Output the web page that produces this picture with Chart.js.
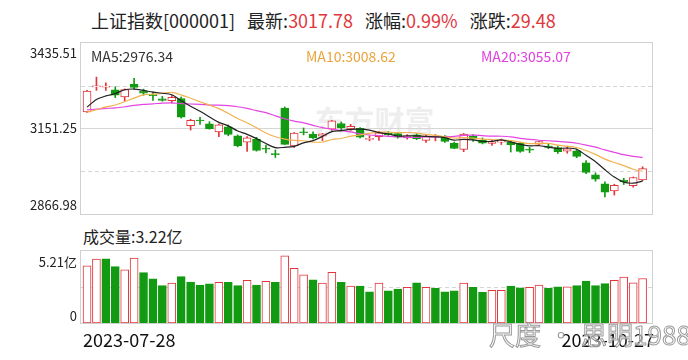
<!DOCTYPE html>
<html><head><meta charset="utf-8">
<script src="https://cdn.jsdelivr.net/npm/chart.js@4.4.0/dist/chart.umd.min.js"></script>
<style>
html,body{margin:0;padding:0;background:#fff;}
body{width:688px;height:360px;position:relative;overflow:hidden;font-family:"Noto Sans CJK SC","Noto Sans",sans-serif;color:#222;}
.abs{position:absolute;white-space:nowrap;}
.r{color:#e0363c;}
#title{left:91px;top:7px;font-size:18px;line-height:26px;}
#title .g{margin-left:12px;}
.ma{top:47px;font-size:14px;line-height:18px;}
#volTitle{left:83px;top:225px;font-size:16px;line-height:22px;}
.date{top:326px;font-size:18px;line-height:26px;color:#111;}
#wm2{left:489px;top:316px;font-size:26px;line-height:36px;color:rgba(255,255,255,0.55);-webkit-text-stroke:1px #9a9a9a;}
canvas{position:absolute;left:0;}
</style></head>
<body>
<div id="title" class="abs"></div>
<canvas id="pc" width="688" height="222" style="top:0"></canvas>
<div id="ma5" class="abs ma" style="left:91px;color:#333"></div>
<div id="ma10" class="abs ma" style="left:306px;color:#e9a43c"></div>
<div id="ma20" class="abs ma" style="left:481px;color:#e040dd"></div>
<div id="volTitle" class="abs"></div>
<canvas id="vc" width="688" height="134" style="top:226px"></canvas>
<div id="d0" class="abs date" style="left:83px"></div>
<div id="d1" class="abs date" style="right:34px"></div>
<div id="wm2" class="abs"><span>尺度</span><span style="margin:0 7px">·</span><span>思明1988</span></div>
<script>
// ---------- data ----------
const dates = ['2023-07-28','2023-07-31','2023-08-01','2023-08-02','2023-08-03','2023-08-04','2023-08-07','2023-08-08','2023-08-09','2023-08-10',
'2023-08-11','2023-08-14','2023-08-15','2023-08-16','2023-08-17','2023-08-18','2023-08-21','2023-08-22','2023-08-23','2023-08-24',
'2023-08-25','2023-08-28','2023-08-29','2023-08-30','2023-08-31','2023-09-01','2023-09-04','2023-09-05','2023-09-06','2023-09-07',
'2023-09-08','2023-09-11','2023-09-12','2023-09-13','2023-09-14','2023-09-15','2023-09-18','2023-09-19','2023-09-20','2023-09-21',
'2023-09-22','2023-09-25','2023-09-26','2023-09-27','2023-09-28','2023-10-09','2023-10-10','2023-10-11','2023-10-12','2023-10-13',
'2023-10-16','2023-10-17','2023-10-18','2023-10-19','2023-10-20','2023-10-23','2023-10-24','2023-10-25','2023-10-26','2023-10-27'];

const opens = [3206.5,3289.5,3289.0,3280.0,3256.0,3299.0,3276.0,3262.0,3250.0,3244.0,
3251.0,3161.0,3178.0,3167.0,3140.0,3157.0,3127.0,3106.0,3116.0,3085.0,
3068.0,3219.0,3093.0,3140.0,3133.0,3126.0,3149.0,3168.0,3150.0,3152.0,
3115.0,3124.0,3136.0,3134.0,3120.0,3130.0,3112.0,3123.0,3122.0,3103.0,
3082.0,3125.0,3113.0,3102.0,3106.0,3105.0,3102.0,3083.0,3099.0,3093.0,
3088.0,3076.0,3077.0,3037.0,2997.0,2967.0,2944.0,2980.0,2961.0,2980.0];

const highs = [3278.0,3322.13,3303.0,3290.0,3283.0,3318.0,3282.0,3272.0,3258.0,3261.0,
3256.0,3182.0,3188.0,3174.0,3166.0,3163.0,3130.0,3124.0,3122.0,3096.0,
3080.0,3223.0,3138.0,3153.0,3140.0,3135.0,3178.0,3173.0,3165.0,3154.0,
3127.0,3142.0,3141.0,3138.0,3131.0,3134.0,3131.0,3131.0,3128.0,3106.0,
3135.0,3131.0,3120.0,3114.0,3116.0,3111.0,3105.0,3089.0,3109.0,3100.0,
3093.0,3091.0,3083.0,3045.0,3004.0,2974.0,2966.0,2986.0,2990.0,3024.0];

const lows = [3204.6,3278.0,3278.0,3254.0,3243.0,3282.0,3262.0,3245.0,3242.0,3236.0,
3186.0,3146.0,3165.0,3149.0,3124.0,3127.0,3090.0,3075.0,3076.0,3070.0,
3055.0,3098.0,3088.0,3130.0,3117.0,3111.0,3145.0,3147.0,3145.0,3120.0,
3110.0,3112.0,3128.0,3119.0,3116.0,3114.0,3105.0,3110.0,3105.0,3084.0,
3074.0,3108.0,3100.0,3095.0,3098.0,3073.0,3072.0,3071.0,3094.0,3084.0,
3068.0,3069.0,3054.0,3001.0,2976.0,2923.51,2930.0,2965.0,2956.0,2978.0];

const closes = [3275.93,3291.04,3290.95,3261.69,3280.46,3288.08,3268.83,3260.62,3244.49,3254.56,
3189.25,3178.43,3176.18,3150.13,3163.74,3131.95,3092.98,3120.33,3078.40,3082.24,
3064.07,3098.64,3135.89,3137.14,3119.88,3133.25,3177.06,3154.37,3158.08,3122.35,
3116.72,3137.06,3131.14,3122.55,3126.55,3117.74,3125.93,3124.80,3108.57,3084.70,
3132.43,3115.61,3102.27,3107.32,3110.48,3096.92,3075.24,3078.96,3107.90,3088.10,
3073.81,3083.50,3058.71,3005.39,2983.06,2939.29,2962.24,2974.10,2988.30,3017.78];

// closes of the 19 sessions before the first candle (for the moving averages)
const priorCloses = [3243.98,3245.35,3222.95,3205.57,3196.61,3203.70,3221.37,3196.13,3236.48,3237.70,
3209.63,3197.82,3198.84,3169.52,3167.75,3164.16,3231.52,3223.13,3216.67];

// volume, 亿
const volumes = [4.13,4.62,4.64,4.08,3.84,4.69,3.64,3.19,2.70,2.88,
3.36,2.97,2.75,2.83,2.95,2.95,2.70,3.09,2.75,3.02,
2.95,4.86,3.96,3.48,3.12,2.88,3.67,2.95,2.68,2.68,
2.25,2.88,2.32,2.46,2.59,2.90,2.59,2.51,2.25,2.32,
2.88,2.59,2.22,2.37,2.37,2.68,2.54,2.59,2.75,2.51,
2.61,2.61,2.70,3.04,2.70,2.85,3.09,3.33,2.90,3.22];

const priceTicks = [3435.51, 3151.25, 2866.98];
const volTicks = [5.21, 0];
const volTickLabels = ['5.21亿', '0'];
const maPeriods = [5, 10, 20];

// ---------- derived ----------
const RED = '#e0363c', GREEN = '#129a12';
const allCloses = priorCloses.concat(closes);
const off = priorCloses.length;
function ma(n){
  return closes.map((c,i)=>{
    let s=0; for(let k=off+i-n+1;k<=off+i;k++) s+=allCloses[k];
    return s/n;
  });
}
const maSeries = maPeriods.map(ma);
const prevClose = i => allCloses[off+i-1];
const candleUp = closes.map((c,i)=>c>=opens[i]);
const volUp = closes.map((c,i)=>c>=prevClose(i));

// text
const last = closes.length-1;
const chg = closes[last]-closes[last-1];
document.getElementById('title').innerHTML =
  '上证指数[000001]<span class="g">最新:</span><span class="r">'+closes[last].toFixed(2)+
  '</span><span class="g">涨幅:</span><span class="r">'+(chg/closes[last-1]*100).toFixed(2)+
  '%</span><span class="g">涨跌:</span><span class="r">'+chg.toFixed(2)+'</span>';
['ma5','ma10','ma20'].forEach((id,k)=>{
  document.getElementById(id).textContent='MA'+maPeriods[k]+':'+maSeries[k][last].toFixed(2);
});
document.getElementById('volTitle').textContent='成交量:'+volumes[last].toFixed(2)+'亿';
document.getElementById('d0').textContent=dates[0];
document.getElementById('d1').textContent=dates[last];

// ---------- plugin: frame, grid, labels ----------
const panelPlugin = {
  id:'panel',
  beforeDatasetsDraw(chart, args, o){
    const {ctx, chartArea:a, scales:{y}} = chart;
    ctx.save();
    if(o.watermark){
      ctx.font='bold 30px "Noto Sans CJK SC"';
      ctx.fillStyle='rgba(120,120,120,0.13)';
      ctx.textAlign='center'; ctx.textBaseline='middle';
      ctx.fillText(o.watermark, (a.left+a.right)/2+8, (a.top+a.bottom)/2-8);
    }
    ctx.lineWidth=1;
    (o.solid||[]).forEach(v=>{
      const py=Math.round(y.getPixelForValue(v))+0.5;
      ctx.strokeStyle='#d6d6d6'; ctx.setLineDash([]);
      ctx.beginPath(); ctx.moveTo(a.left,py); ctx.lineTo(a.right,py); ctx.stroke();
    });
    (o.dashed||[]).forEach(v=>{
      const py=Math.round(y.getPixelForValue(v))+0.5;
      ctx.strokeStyle='#d6d6d6'; ctx.setLineDash([4,3]);
      ctx.beginPath(); ctx.moveTo(a.left,py); ctx.lineTo(a.right,py); ctx.stroke();
    });
    ctx.restore();
  },
  afterDraw(chart, args, o){
    const {ctx, chartArea:a, scales:{y}} = chart;
    ctx.save();
    ctx.strokeStyle='#d0d0d0'; ctx.lineWidth=1; ctx.setLineDash([]);
    ctx.strokeRect(Math.round(a.left)-0.5, Math.round(a.top)-0.5, Math.round(a.right-a.left)+1, Math.round(a.bottom-a.top)+1);
    ctx.font='13px "Noto Sans CJK SC"';
    ctx.fillStyle='#222'; ctx.textAlign='right'; ctx.textBaseline='middle';
    (o.labels||[]).forEach(l=>{
      ctx.fillText(l.text, a.left-4, y.getPixelForValue(l.value)+l.dy);
    });
    ctx.restore();
  }
};

const xScale = {type:'linear', min:-0.64, max:60, offset:false, grid:{offset:false}, display:false};
const idx = closes.map((c,i)=>i);

// ---------- price chart ----------
new Chart(document.getElementById('pc'), {
  type:'bar',
  data:{datasets:[
    {label:'wick', order:4, grouped:false, barThickness:1,
     data: idx.map(i=>({x:i, y:[lows[i], highs[i]]})),
     backgroundColor: idx.map(i=>candleUp[i]?RED:GREEN), borderWidth:0},
    {label:'body', order:3, grouped:false, barThickness:8, minBarLength:1,
     data: idx.map(i=>({x:i, y:[opens[i], closes[i]]})),
     backgroundColor: idx.map(i=>candleUp[i]?'#ffffff':GREEN),
     borderColor: idx.map(i=>candleUp[i]?RED:GREEN),
     borderWidth:1, borderSkipped:false},
    {type:'line', label:'MA20', order:2, data: idx.map(i=>({x:i,y:maSeries[2][i]})),
     borderColor:'#e545e2', borderWidth:1.2, pointRadius:0, tension:0.3},
    {type:'line', label:'MA10', order:1, data: idx.map(i=>({x:i,y:maSeries[1][i]})),
     borderColor:'#f2b24e', borderWidth:1.2, pointRadius:0, tension:0.3},
    {type:'line', label:'MA5', order:0, data: idx.map(i=>({x:i,y:maSeries[0][i]})),
     borderColor:'#222222', borderWidth:1.2, pointRadius:0, tension:0.3}
  ]},
  options:{
    responsive:false, animation:false, devicePixelRatio:1,
    layout:{padding:{left:81, right:36, top:43, bottom:8}},
    scales:{x:xScale, y:{min:priceTicks[2], max:priceTicks[0], display:false}},
    plugins:{legend:{display:false}, tooltip:{enabled:false},
      panel:{
        watermark:'东方财富',
        solid:[priceTicks[1]],
        dashed:[(priceTicks[0]*3+priceTicks[2])/4, (priceTicks[0]+priceTicks[2]*3)/4],
        labels:[{value:priceTicks[0], text:priceTicks[0].toFixed(2), dy:10},
                {value:priceTicks[1], text:priceTicks[1].toFixed(2), dy:0},
                {value:priceTicks[2], text:priceTicks[2].toFixed(2), dy:-9}]
      }}
  },
  plugins:[panelPlugin]
});

// ---------- volume chart ----------
new Chart(document.getElementById('vc'), {
  type:'bar',
  data:{datasets:[
    {label:'vol', grouped:false, barThickness:8,
     data: idx.map(i=>({x:i, y:volumes[i]})),
     backgroundColor: idx.map(i=>volUp[i]?'#ffffff':GREEN),
     borderColor: idx.map(i=>volUp[i]?RED:GREEN),
     borderWidth:1, borderSkipped:false}
  ]},
  options:{
    responsive:false, animation:false, devicePixelRatio:1,
    layout:{padding:{left:81, right:36, top:25, bottom:37}},
    scales:{x:xScale, y:{min:volTicks[1], max:volTicks[0], display:false}},
    plugins:{legend:{display:false}, tooltip:{enabled:false},
      panel:{
        dashed:[(volTicks[0]+volTicks[1])/2],
        labels:[{value:volTicks[0], text:volTickLabels[0], dy:11},
                {value:volTicks[1], text:volTickLabels[1], dy:-7}]
      }}
  },
  plugins:[panelPlugin]
});
</script>
</body></html>
